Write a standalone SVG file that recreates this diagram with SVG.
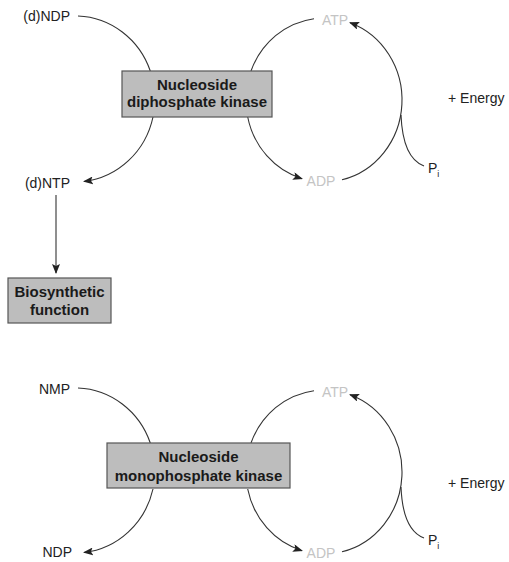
<svg xmlns="http://www.w3.org/2000/svg" width="509" height="562" viewBox="0 0 509 562">
<defs>
<style>
.lbl{font-family:"Liberation Sans",Arial,sans-serif;font-size:14px;fill:#222}
.faded{font-family:"Liberation Sans",Arial,sans-serif;font-size:14px;fill:#c4c4c4}
.btxt{font-family:"Liberation Sans",Arial,sans-serif;font-size:15px;font-weight:bold;fill:#1a1a1a;text-anchor:middle}
.box{fill:#bdbdbd;stroke:#555;stroke-width:1.2}
.ln{fill:none;stroke:#333;stroke-width:1.1}
.arr{fill:none;stroke:#333;stroke-width:1.1;marker-end:url(#ah)}
</style>
<marker id="ah" viewBox="0 0 10 8" refX="9" refY="4" markerWidth="10" markerHeight="8" markerUnits="userSpaceOnUse" orient="auto">
<path d="M0,0 L10,4 L0,8 L2,4 z" fill="#222"/>
</marker>
</defs>

<g id="connectors">
<!-- top reaction -->
<path class="ln" d="M78,16 A80,83 0 0 1 150.3,71"/>
<path class="arr" d="M153,117 A80,83 0 0 1 84,181.5"/>
<path class="ln" d="M314,18.7 A78,82 0 0 0 251,71"/>
<path class="arr" d="M247.7,117 A78,82 0 0 0 302,178.7"/>
<path class="arr" d="M342,179.8 A78,82 0 0 0 350,22.7"/>
<path class="ln" d="M401,115 C402,140 408,160 424,166"/>
<line class="arr" x1="56" y1="195" x2="56" y2="273"/>
<!-- bottom reaction -->
<path class="ln" d="M78,388 A80,83 0 0 1 150.3,443"/>
<path class="arr" d="M153,489 A80,83 0 0 1 84,552.5"/>
<path class="ln" d="M314,390.7 A78,82 0 0 0 251,443"/>
<path class="arr" d="M247.7,489 A78,82 0 0 0 302,550.7"/>
<path class="arr" d="M342,551.8 A78,82 0 0 0 350,394.7"/>
<path class="ln" d="M401,487 C402,512 408,532 424,538"/>
</g>

<g id="ndk">
<rect class="box" x="122" y="71" width="150" height="46"/>
<text class="btxt" x="197" y="90">Nucleoside</text>
<text class="btxt" x="197" y="107">diphosphate kinase</text>
</g>
<g id="dNDP"><text class="lbl" x="70" y="21" text-anchor="end">(d)NDP</text></g>
<g id="dNTP"><text class="lbl" x="70" y="188" text-anchor="end">(d)NTP</text></g>
<g id="atp1"><text class="faded" x="335" y="25" text-anchor="middle">ATP</text></g>
<g id="adp1"><text class="faded" x="321" y="186" text-anchor="middle">ADP</text></g>
<g id="pi1"><text class="lbl" x="428" y="173">P<tspan font-size="9" dy="4">i</tspan></text></g>
<g id="energy1"><text class="lbl" x="448" y="103">+ Energy</text></g>

<g id="biosynthetic">
<rect class="box" x="8" y="278" width="103" height="45"/>
<text class="btxt" x="59.5" y="297">Biosynthetic</text>
<text class="btxt" x="59.5" y="315">function</text>
</g>

<g id="nmk">
<rect class="box" x="107" y="443" width="183" height="45"/>
<text class="btxt" x="198.5" y="462">Nucleoside</text>
<text class="btxt" x="198.5" y="481">monophosphate kinase</text>
</g>
<g id="NMP"><text class="lbl" x="70" y="394" text-anchor="end">NMP</text></g>
<g id="NDP"><text class="lbl" x="72" y="557" text-anchor="end">NDP</text></g>
<g id="atp2"><text class="faded" x="335" y="397" text-anchor="middle">ATP</text></g>
<g id="adp2"><text class="faded" x="321" y="558" text-anchor="middle">ADP</text></g>
<g id="pi2"><text class="lbl" x="428" y="545">P<tspan font-size="9" dy="4">i</tspan></text></g>
<g id="energy2"><text class="lbl" x="448" y="488">+ Energy</text></g>
</svg>
